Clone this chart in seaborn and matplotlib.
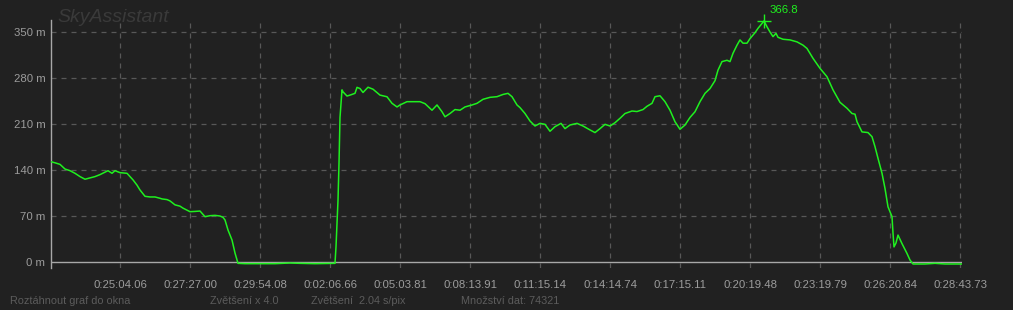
import numpy as np
import pandas as pd
import matplotlib
matplotlib.use("Agg")
import matplotlib.pyplot as plt
import seaborn as sns

# ---- data (x in display bins of 2.04 s, y in metres) ----
sample_bin = [0, 4, 9, 14, 19, 24, 29, 34, 39, 44, 49, 53, 57, 61, 64, 69, 76, 82, 86, 89,
              94, 99, 104, 109, 111, 116, 119, 124, 129, 132, 136, 139, 144, 149, 154, 159,
              164, 169, 172, 174, 177, 181, 184, 187, 194, 209, 224, 239, 249, 264, 279, 284,
              285, 286, 287, 288, 289, 291, 292, 296, 299, 304, 306, 309, 312, 317, 322, 329,
              336, 341, 346, 349, 356, 362, 369, 374, 381, 386, 391, 394, 399, 404, 409, 414,
              421, 426, 432, 439, 446, 452, 457, 461, 466, 469, 474, 479, 484, 489, 494, 499,
              504, 510, 514, 519, 526, 532, 539, 544, 549, 554, 559, 564, 569, 574, 581, 586,
              592, 596, 601, 604, 609, 614, 619, 624, 629, 634, 639, 644, 649, 654, 659, 664,
              667, 671, 676, 679, 682, 686, 689, 692, 696, 699, 704, 707, 713, 716, 719, 722,
              725, 727, 732, 739, 746, 752, 756, 762, 769, 776, 782, 789, 796, 801, 804, 806,
              811, 817, 821, 824, 827, 831, 834, 837, 841, 842, 843, 845, 847, 851, 856, 859,
              862, 874, 884, 894, 911]
altitude_m = [152.6, 151, 148.6, 141.5, 139, 135, 130, 126, 128, 130, 133, 136, 139, 135, 139,
              136, 135, 125, 117, 109.6, 100, 99, 99, 97, 96, 95, 93, 87, 85, 82, 79, 76.6, 77,
              77.6, 69, 70.5, 71, 70, 68, 64, 48.7, 33.5, 13.7, -2, -2.5, -2.5, -2.5, -1.5, -2,
              -2.5, -2, -2, 23, 59, 94, 150, 220, 262, 259, 252.6, 254, 256.7, 265.8, 264, 258,
              266, 263, 254, 251.5, 241.5, 236, 239, 244, 244, 244, 241, 231, 239, 228.7, 221,
              226, 232, 231, 236, 239, 241.5, 247.6, 250.6, 251.6, 255, 256.7, 251.6, 239, 235,
              226, 214.6, 207, 211, 209.5, 199, 206, 211, 203, 208.5, 211, 207, 201, 197, 203,
              209.5, 207, 212, 218.7, 226, 229.8, 229, 232, 237, 241.5, 251.6, 253, 244, 231,
              213.5, 202, 208.5, 220, 228.7, 244, 256.7, 264, 276, 292, 305, 307, 305, 317.6,
              330, 338, 333, 333, 340, 349, 355.6, 366.8, 358, 350, 343, 348, 342, 339, 338,
              335, 330, 325, 310, 294.7, 282, 262, 243, 234, 226, 225, 213.5, 198, 197, 190.7,
              175.5, 157.8, 135, 112, 84, 69, 44, 23, 29, 41, 28, 13, 3, -3, -3, -2, -3, -3]

y_ticks = [0, 70, 140, 210, 280, 350]
x_tick_bins = [69, 139, 209, 279, 349, 419, 489, 559, 629, 699, 769, 839, 909]
x_tick_labels = ["0:25:04.06", "0:27:27.00", "0:29:54.08", "0:02:06.66", "0:05:03.81",
                 "0:08:13.91", "0:11:15.14", "0:14:14.74", "0:17:15.11", "0:20:19.48",
                 "0:23:19.79", "0:26:20.84", "0:28:43.73"]
footer_texts = ["Roztáhnout graf do okna", "Zvětšení x 4.0", "Zvětšení  2.04 s/pix",
                "Množství dat: 74321"]

df = pd.DataFrame({"bin": sample_bin, "alt": altitude_m})

BG = "#212121"
sns.set_style("dark")
plt.rcParams["font.family"] = ["Liberation Sans", "DejaVu Sans"]

fig = plt.figure(figsize=(10.13, 3.10), dpi=100, facecolor=BG)
ax = fig.add_axes([51 / 1013, (310 - 268) / 310, 911 / 1013, 248 / 310])
ax.set_facecolor(BG)

sns.lineplot(data=df, x="bin", y="alt", ax=ax, color="#1ff01f", lw=1.1,
             estimator=None, sort=False, zorder=4)

ax.set_xlim(0, 911)
ax.set_ylim(-9.1, 368.3)

# grid
for yv in y_ticks[1:]:
    ax.axhline(yv, color="#585858", lw=0.9, ls=(0, (4, 4)), zorder=1)
for xv in x_tick_bins:
    ax.axvline(xv, color="#585858", lw=0.9, ls=(0, (4, 4)), zorder=1)
ax.axhline(0, color="#a8a8a8", lw=1.0, zorder=3)
ax.grid(False)

for s in ["top", "right", "bottom"]:
    ax.spines[s].set_visible(False)
ax.spines["left"].set_color("#a8a8a8")
ax.spines["left"].set_linewidth(1.0)

ax.set_yticks(y_ticks)
ax.set_yticklabels([f"{v} m" for v in y_ticks])
ax.set_xticks(x_tick_bins)
ax.set_xticklabels(x_tick_labels)
ax.tick_params(axis="both", length=0, colors="#9c9c9c", labelsize=8.2)
ax.tick_params(axis="y", pad=4)
ax.tick_params(axis="x", pad=9)
ax.set_xlabel("")
ax.set_ylabel("")

# peak marker
i_max = int(np.argmax(altitude_m))
px, py = sample_bin[i_max], altitude_m[i_max]
ax.plot([px], [py], marker="+", ms=10, mew=1.0, color="#1ff01f", clip_on=False, zorder=5)
ax.annotate(f"{py:.1f}", xy=(px, py), xytext=(4, 4), textcoords="offset points",
            color="#1ff01f", fontsize=8.2, ha="left", va="bottom", annotation_clip=False)

# watermark
fig.text(57 / 1013, 1 - 17 / 310, "SkyAssistant", fontsize=14, style="italic",
         color="#3a3a3a", ha="left", va="center")

# footer
footer_x = [10, 210, 311, 461]
for fx, t in zip(footer_x, footer_texts):
    fig.text(fx / 1013, 1 - 301 / 310, t, fontsize=7.8, color="#5c5c5c",
             ha="left", va="center")

fig.savefig("out.png", dpi=100, facecolor=BG)
